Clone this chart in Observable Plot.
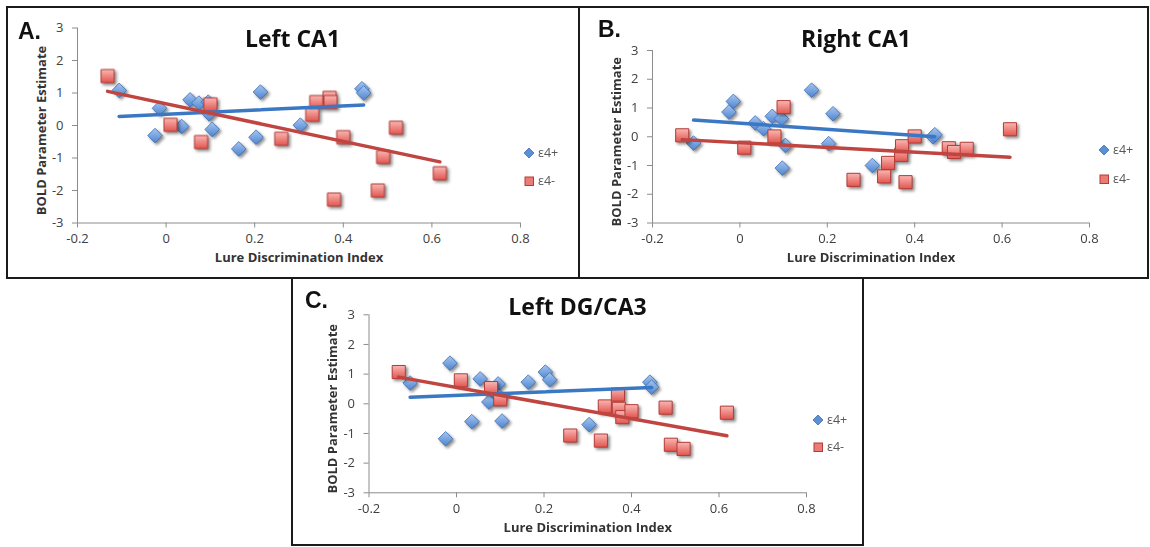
<!DOCTYPE html>
<html><head><meta charset="utf-8">
<script src="https://cdn.jsdelivr.net/npm/d3@7"></script>
<script src="https://cdn.jsdelivr.net/npm/@observablehq/plot@0.6"></script>
<style>
body{margin:0;background:#fff;}
#page{position:relative;width:1150px;height:547px;overflow:hidden;font-family:"Open Sans",sans-serif;background:#fff;}
.box{position:absolute;border:2px solid #1b1b1b;box-sizing:border-box;}
.panel{position:absolute;}
.letter{position:absolute;font-family:"Liberation Sans",Arial,sans-serif;font-weight:bold;font-size:23px;line-height:1;color:#111;white-space:nowrap;}
.title{position:absolute;font-family:"Open Sans",sans-serif;font-weight:bold;font-size:23px;line-height:1;color:#111;transform:translateX(-50%);white-space:nowrap;}
.leg{position:absolute;font-family:"Open Sans",sans-serif;font-size:12.5px;color:#595959;line-height:1;display:flex;align-items:center;height:14px;white-space:nowrap;}
.leg svg{display:block;margin-right:3px;}
</style></head><body><div id="page"></div>
<script>
// ---- Data ----
const seriesNames = ["ε4+", "ε4-"];
const xLabel = "Lure Discrimination Index";
const yLabel = "BOLD Parameter Estimate";
const xTicks = [-0.2, 0, 0.2, 0.4, 0.6, 0.8];
const yTicks = [-3, -2, -1, 0, 1, 2, 3];

// Lure Discrimination Index per subject (same subjects in all panels)
const ldiPos = [-0.106, -0.025, -0.015, 0.035, 0.054, 0.074, 0.095, 0.097, 0.104, 0.164, 0.203, 0.213, 0.303, 0.442, 0.446];
const ldiNeg = [-0.132, 0.010, 0.079, 0.100, 0.260, 0.330, 0.339, 0.369, 0.371, 0.379, 0.400, 0.478, 0.490, 0.519, 0.618];

// BOLD parameter estimates
const leftCA1Pos  = [1.08, -0.31, 0.53, -0.03, 0.79, 0.69, 0.72, 0.36, -0.12, -0.72, -0.36, 1.03, 0.01, 1.13, 1.00];
const leftCA1Neg  = [1.52, 0.02, -0.51, 0.65, -0.41, 0.33, 0.72, 0.85, 0.72, -2.28, -0.36, -2.00, -0.97, -0.07, -1.47];
const rightCA1Pos = [-0.22, 0.86, 1.23, 0.48, 0.28, 0.71, 0.63, -1.09, -0.30, 1.62, -0.24, 0.80, -1.00, 0.00, 0.07];
const rightCA1Neg = [0.05, -0.38, 0.01, 1.03, -1.50, -1.38, -0.91, -0.63, -0.33, -1.58, 0.01, -0.40, -0.53, -0.42, 0.26];
const leftDGPos   = [0.70, -1.18, 1.37, -0.60, 0.84, 0.06, 0.67, 0.25, -0.58, 0.73, 1.07, 0.81, -0.70, 0.73, 0.56];
const leftDGNeg   = [1.07, 0.79, 0.53, 0.15, -1.07, -1.24, -0.09, 0.31, -0.17, -0.45, -0.25, -0.13, -1.38, -1.52, -0.30];

// Linear trend lines (end points)
const trendXPos = [-0.106, 0.446];
const trendXNeg = [-0.132, 0.618];
const leftCA1TrendPos  = [0.28, 0.63];
const leftCA1TrendNeg  = [1.05, -1.12];
const rightCA1TrendPos = [0.58, 0.00];
const rightCA1TrendNeg = [-0.10, -0.71];
const leftDGTrendPos   = [0.22, 0.55];
const leftDGTrendNeg   = [0.90, -1.08];

const panels = [
  {id:"A", letter:"A.", title:"Left CA1", pos:leftCA1Pos, neg:leftCA1Neg, tPos:leftCA1TrendPos, tNeg:leftCA1TrendNeg,
   box:[7,7,579,278], frame:[77,27.5,520,222.5], letterXY:[18,39], titleXY:[292.5,47], legXY:[529,153,181]},
  {id:"B", letter:"B.", title:"Right CA1", pos:rightCA1Pos, neg:rightCA1Neg, tPos:rightCA1TrendPos, tNeg:rightCA1TrendNeg,
   box:[579,7,1148,278], frame:[652,50,1089,222.5], letterXY:[598,37], titleXY:[856,47], legXY:[1104,150,179]},
  {id:"C", letter:"C.", title:"Left DG/CA3", pos:leftDGPos, neg:leftDGNeg, tPos:leftDGTrendPos, tNeg:leftDGTrendNeg,
   box:[292,278,863,545], frame:[368.5,314.3,806,492.3], letterXY:[305,308], titleXY:[577.5,315], legXY:[818,420,447]}
];

const fmt = d => d === 0 ? "0" : String(d);
const page = document.getElementById("page");
const BLUE_LINE = "#3b78c3", RED_LINE = "#c0443f";

function addDiv(cls, text, style){
  const d = document.createElement("div");
  d.className = cls; d.textContent = text;
  Object.assign(d.style, style);
  page.appendChild(d);
  return d;
}

for (const p of panels) {
  const [bl, bt, br, bb] = p.box;
  const [fl, ft, fr, fb] = p.frame;
  const W = br - bl, H = bb - bt;
  const posData = ldiPos.map((x, i) => ({x, y: p.pos[i]}));
  const negData = ldiNeg.map((x, i) => ({x, y: p.neg[i]}));
  const tPos = trendXPos.map((x, i) => ({x, y: p.tPos[i]}));
  const tNeg = trendXNeg.map((x, i) => ({x, y: p.tNeg[i]}));

  const svg = Plot.plot({
    width: W, height: H,
    marginLeft: fl - bl, marginRight: br - fr, marginTop: ft - bt, marginBottom: bb - fb,
    style: {fontFamily: "'Open Sans', sans-serif", fontSize: "13px", color: "#404040", background: "transparent", overflow: "visible"},
    x: {domain: [-0.2, 0.8], label: null},
    y: {domain: [-3, 3], label: null},
    marks: [
      Plot.ruleX([-0.2], {stroke: "#8c8c8c", strokeWidth: 1}),
      Plot.ruleY([-3], {stroke: "#8c8c8c", strokeWidth: 1}),
      Plot.axisX({ticks: xTicks, tickFormat: fmt, tickSize: 5, tickPadding: 6, stroke: "#8c8c8c", fill: "#404040", fontSize: 13, label: null}),
      Plot.axisY({ticks: yTicks, tickFormat: fmt, tickSize: 5, tickPadding: 9, stroke: "#8c8c8c", fill: "#404040", fontSize: 13, label: null}),
      Plot.text([xLabel], {text: d => d, frameAnchor: "bottom", dy: 39, textAnchor: "middle", fontWeight: "bold", fontSize: 13, fill: "#333"}),
      Plot.text([yLabel], {text: d => d, frameAnchor: "left", dx: -36, dy: 5, rotate: -90, textAnchor: "middle", fontWeight: "bold", fontSize: 13, fill: "#333"}),
      Plot.dot(posData, {x: "x", y: "y", symbol: "diamond2", r: 6.6, fill: `url(#bg${p.id})`, stroke: "#3e6fb3", strokeWidth: 0.8}),
      Plot.dot(negData, {x: "x", y: "y", symbol: "square", r: 7.4, fill: `url(#rg${p.id})`, stroke: "#b23c37", strokeWidth: 1}),
      Plot.line(tPos, {x: "x", y: "y", stroke: BLUE_LINE, strokeWidth: 3.5}),
      Plot.line(tNeg, {x: "x", y: "y", stroke: RED_LINE, strokeWidth: 3.5})
    ]
  });

  const s = d3.select(svg);
  const defs = s.insert("defs", ":first-child");
  const gb = defs.append("linearGradient").attr("id", "bg" + p.id).attr("x1", 0).attr("y1", 0).attr("x2", 0).attr("y2", 1);
  gb.append("stop").attr("offset", "0%").attr("stop-color", "#a6c6f0");
  gb.append("stop").attr("offset", "100%").attr("stop-color", "#4d84d0");
  const gr = defs.append("linearGradient").attr("id", "rg" + p.id).attr("x1", 0).attr("y1", 0).attr("x2", 0).attr("y2", 1);
  gr.append("stop").attr("offset", "0%").attr("stop-color", "#f9b7b3");
  gr.append("stop").attr("offset", "100%").attr("stop-color", "#e2554f");
  s.selectAll('g[aria-label="dot"]').style("filter", "drop-shadow(2px 2.5px 1.5px rgba(0,0,0,0.45))");

  const wrap = document.createElement("div");
  wrap.className = "panel";
  wrap.style.left = bl + "px"; wrap.style.top = bt + "px";
  wrap.appendChild(svg);
  page.appendChild(wrap);

  // frame box
  addDiv("box", "", {left: (bl - 1) + "px", top: (bt - 1) + "px", width: (W + 2) + "px", height: (H + 2) + "px"});
  // panel letter and title
  addDiv("letter", p.letter, {left: p.letterXY[0] + "px", top: (p.letterXY[1] - 0.8465 * 23) + "px"});
  addDiv("title", p.title, {left: p.titleXY[0] + "px", top: (p.titleXY[1] - 0.888 * 23) + "px"});
  // legend
  const [lx, ly1, ly2] = p.legXY;
  const shapes = [
    `<svg width="12" height="12"><path d="M6,1L11,6L6,11L1,6Z" fill="#5b8fd6" stroke="#3e6fb3" stroke-width="0.8"/></svg>`,
    `<svg width="12" height="12"><rect x="2" y="2" width="8.5" height="8.5" fill="#ec7a75" stroke="#b23c37" stroke-width="1"/></svg>`
  ];
  [ly1, ly2].forEach((ly, i) => {
    const d = addDiv("leg", "", {left: (lx - 6) + "px", top: (ly - 7) + "px"});
    d.innerHTML = shapes[i] + `<span>${seriesNames[i]}</span>`;
  });
}
</script></body></html>
